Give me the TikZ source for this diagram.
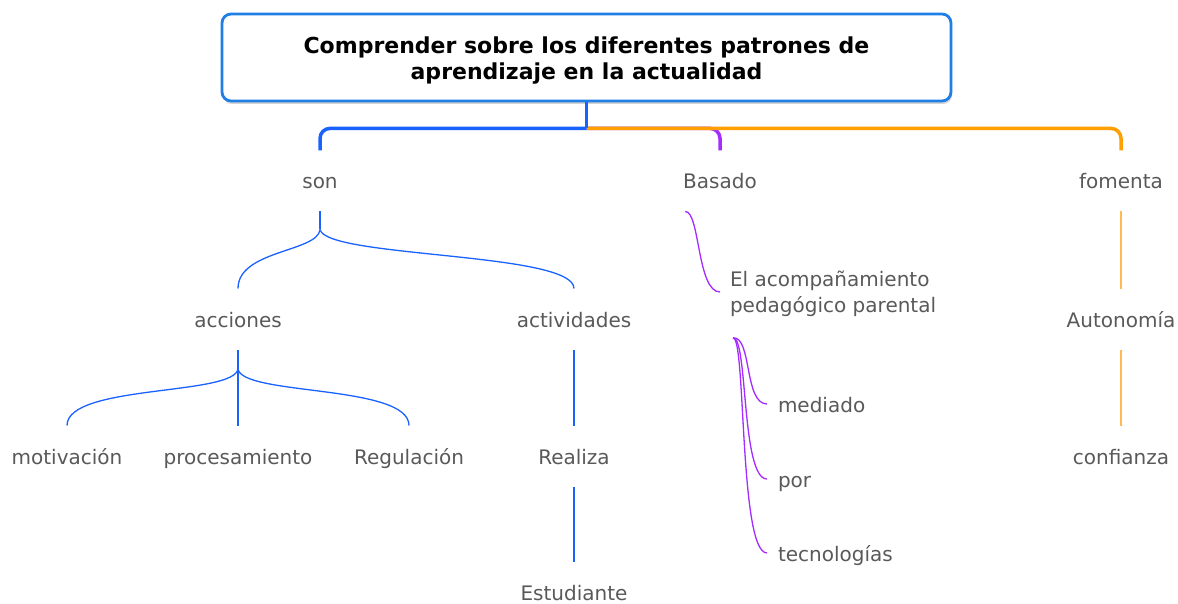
\documentclass[tikz,border=0pt]{standalone}
\usepackage{fontspec}
\setmainfont{DejaVu Sans}
\usetikzlibrary{shadows}
\definecolor{mapBlue}{HTML}{1A62FF}
\definecolor{boxBlue}{HTML}{1F7FE5}
\definecolor{mapPurple}{HTML}{A52BFF}
\definecolor{mapOrange}{HTML}{FFA000}
\definecolor{lightOrange}{HTML}{FFBA55}
\definecolor{txtGray}{HTML}{595959}

\begin{document}
\begin{tikzpicture}[x=1pt,y=-1pt]
			\tikzstyle{boxs} = [draw=boxBlue, line width=2.8pt, fill=white, rounded corners=9pt,
				minimum width=729pt, minimum height=87pt, align=center,
				font=\fontsize{22}{26}\selectfont\bfseries,
				drop shadow={opacity=0.35, shadow xshift=1pt, shadow yshift=-3pt}]
			\tikzstyle{word} = [text=txtGray, font=\fontsize{20}{26}\selectfont, inner sep=0pt,
				text height=17.5pt, text depth=1.5pt, outer ysep=21pt, outer xsep=11pt]
			\tikzstyle{lineTop} = [line width=3.5pt, rounded corners=10pt]
			\tikzstyle{lineB} = [draw=mapBlue, line width=1.3pt]
			\tikzstyle{lineP} = [draw=mapPurple, line width=1.3pt]
			\tikzstyle{lineO} = [draw=lightOrange, line width=1.3pt]

			\useasboundingbox (0,0) rectangle (1178,604);

			\node(Objetivo)[boxs] at (586.5,57.5){\rule{0pt}{23pt}Comprender sobre los diferentes patrones de\\aprendizaje en la actualidad};
			\coordinate (Hub) at ([yshift=-26pt]Objetivo.south);

			\node(Son)[word] at (320,181){son};
			\node(Basado)[word] at (720,181){Basado};
			\node(Fomenta)[word] at (1121,181){fomenta};

			\node(Acciones)[word] at (238,319){acciones};
			\node(Actividades)[word] at (574,319){actividades};
			\node(Motivacion)[word] at (67,456){motivación};
			\node(Procesamiento)[word] at (238,456){procesamiento};
			\node(Regulacion)[word] at (409,456){Regulación};
			\node(Realiza)[word] at (574,456){Realiza};
			\node(Estudiante)[word] at (574,592.5){Estudiante};

			\node(Acompanamiento)[word, anchor=west, align=left, text height=, text depth=] at (719,294){El acompañamiento\\pedagógico parental};
			\node(Mediado)[word, anchor=west] at (767,404){mediado};
			\node(Por)[word, anchor=west] at (767,479){por};
			\node(Tecnologias)[word, anchor=west] at (767,553){tecnologías};

			\node(Autonomia)[word] at (1121,319){Autonomía};
			\node(Confianza)[word] at (1121,456){confianza};

			% top branches
			\draw[lineTop, mapPurple] (Hub) -| (Basado.north);
			\draw[lineTop, mapOrange] (Hub) -| (Fomenta.north);
			\draw[lineTop, mapBlue] (Hub) -| (Son.north);
			\draw[line width=3.5pt, mapBlue] (Objetivo.south) -- (Hub);

			% son
			\coordinate (SonFork) at ([yshift=-18pt]Son.south);
			\draw[lineB] (Son.south) -- (SonFork);
			\draw[lineB] (SonFork) .. controls (318,252) and (238,250) .. (Acciones.north);
			\draw[lineB] (SonFork) .. controls (326,258) and (574,252) .. (Actividades.north);

			\coordinate (AccFork) at ([yshift=-19pt]Acciones.south);
			\draw[lineB] (Acciones.south) -- (AccFork);
			\draw[lineB] (AccFork) .. controls (236,396) and (67,384) .. (Motivacion.north);
			\draw[lineB] (AccFork) -- (Procesamiento.north);
			\draw[lineB] (AccFork) .. controls (240,396) and (409,384) .. (Regulacion.north);

			\draw[lineB] (Actividades.south) -- (Realiza.north);
			\draw[lineB] (Realiza.south) -- (Estudiante.north);

			% Basado
			\draw[lineP] ([xshift=13pt]Basado.south west) .. controls (700,211) and (697,292) .. ([xshift=1pt,yshift=2pt]Acompanamiento.west);
			\coordinate (AcoOut) at ([xshift=14pt]Acompanamiento.south west);
			\draw[lineP] (AcoOut) .. controls (752,336) and (744,404) .. (Mediado.west);
			\draw[lineP] (AcoOut) .. controls (748,336) and (741,479) .. (Por.west);
			\draw[lineP] (AcoOut) .. controls (746,336) and (739,553) .. (Tecnologias.west);

			% fomenta
			\draw[lineO] (Fomenta.south) -- (Autonomia.north);
			\draw[lineO] (Autonomia.south) -- (Confianza.north);

		\end{tikzpicture}
\end{document}
